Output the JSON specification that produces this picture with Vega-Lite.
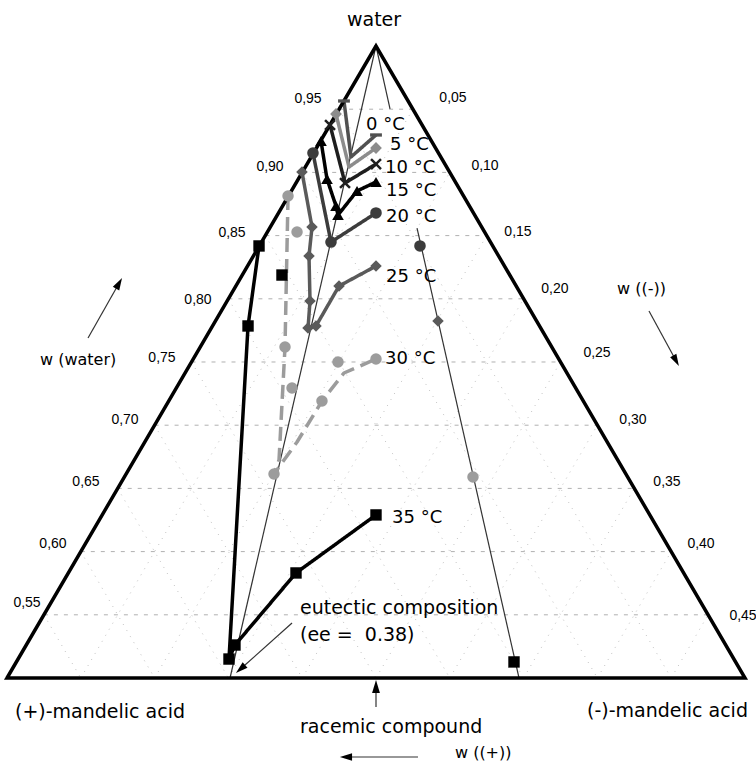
{
  "$schema": "https://vega.github.io/schema/vega-lite/v6.json",
  "width": 756,
  "height": 764,
  "autosize": {"type": "none"},
  "padding": 0,
  "background": "white",
  "config": {"view": {"stroke": null}},
  "datasets": {
    "frame": [
      {"ord": 1, "x": 0, "y": 1}, {"ord": 2, "x": -0.5, "y": 0.5}, {"ord": 3, "x": 0.5, "y": 0.5},
      {"ord": 4, "x": 0, "y": 1}, {"ord": 5, "x": -0.5, "y": 0.5}
    ],
    "hgrid": [
      {"g": "95", "x": -0.05, "y": 0.95}, {"g": "95", "x": 0.05, "y": 0.95},
      {"g": "90", "x": -0.1, "y": 0.9}, {"g": "90", "x": 0.1, "y": 0.9},
      {"g": "85", "x": -0.15, "y": 0.85}, {"g": "85", "x": 0.15, "y": 0.85},
      {"g": "80", "x": -0.2, "y": 0.8}, {"g": "80", "x": 0.2, "y": 0.8},
      {"g": "75", "x": -0.25, "y": 0.75}, {"g": "75", "x": 0.25, "y": 0.75},
      {"g": "70", "x": -0.3, "y": 0.7}, {"g": "70", "x": 0.3, "y": 0.7},
      {"g": "65", "x": -0.35, "y": 0.65}, {"g": "65", "x": 0.35, "y": 0.65},
      {"g": "60", "x": -0.4, "y": 0.6}, {"g": "60", "x": 0.4, "y": 0.6},
      {"g": "55", "x": -0.45, "y": 0.55}, {"g": "55", "x": 0.45, "y": 0.55}
    ],
    "dgrid": [
      {"g": "m05", "x": -0.4, "y": 0.5}, {"g": "m05", "x": 0.05, "y": 0.95},
      {"g": "m10", "x": -0.3, "y": 0.5}, {"g": "m10", "x": 0.1, "y": 0.9},
      {"g": "m15", "x": -0.2, "y": 0.5}, {"g": "m15", "x": 0.15, "y": 0.85},
      {"g": "m20", "x": -0.1, "y": 0.5}, {"g": "m20", "x": 0.2, "y": 0.8},
      {"g": "m25", "x": 0.0, "y": 0.5}, {"g": "m25", "x": 0.25, "y": 0.75},
      {"g": "m30", "x": 0.1, "y": 0.5}, {"g": "m30", "x": 0.3, "y": 0.7},
      {"g": "m35", "x": 0.2, "y": 0.5}, {"g": "m35", "x": 0.35, "y": 0.65},
      {"g": "m40", "x": 0.3, "y": 0.5}, {"g": "m40", "x": 0.4, "y": 0.6},
      {"g": "m45", "x": 0.4, "y": 0.5}, {"g": "m45", "x": 0.45, "y": 0.55},
      {"g": "p05", "x": 0.4, "y": 0.5}, {"g": "p05", "x": -0.05, "y": 0.95},
      {"g": "p10", "x": 0.3, "y": 0.5}, {"g": "p10", "x": -0.1, "y": 0.9},
      {"g": "p15", "x": 0.2, "y": 0.5}, {"g": "p15", "x": -0.15, "y": 0.85},
      {"g": "p20", "x": 0.1, "y": 0.5}, {"g": "p20", "x": -0.2, "y": 0.8},
      {"g": "p25", "x": 0.0, "y": 0.5}, {"g": "p25", "x": -0.25, "y": 0.75},
      {"g": "p30", "x": -0.1, "y": 0.5}, {"g": "p30", "x": -0.3, "y": 0.7},
      {"g": "p35", "x": -0.2, "y": 0.5}, {"g": "p35", "x": -0.35, "y": 0.65},
      {"g": "p40", "x": -0.3, "y": 0.5}, {"g": "p40", "x": -0.4, "y": 0.6},
      {"g": "p45", "x": -0.4, "y": 0.5}, {"g": "p45", "x": -0.45, "y": 0.55}
    ],
    "guides": [
      {"g": "eut", "ord": 1, "x": 0, "y": 1}, {"g": "eut", "ord": 2, "x": -0.1978, "y": 0.5},
      {"g": "tieA", "ord": 1, "x": 0, "y": 1}, {"g": "tieA", "ord": 2, "x": 0.019, "y": 0.9502},
      {"g": "tieB", "ord": 1, "x": 0.0556, "y": 0.856}, {"g": "tieB", "ord": 2, "x": 0.1938, "y": 0.5}
    ],
    "curves": [
      {"T": "0", "ord": 1, "x": -0.0434, "y": 0.9565}, {"T": "0", "ord": 2, "x": -0.0339, "y": 0.9122}, {"T": "0", "ord": 3, "x": 0, "y": 0.9296},
      {"T": "5", "ord": 1, "x": -0.0542, "y": 0.9462}, {"T": "5", "ord": 2, "x": -0.0366, "y": 0.9043}, {"T": "5", "ord": 3, "x": 0, "y": 0.9193},
      {"T": "10", "ord": 1, "x": -0.0623, "y": 0.9375}, {"T": "10", "ord": 2, "x": -0.042, "y": 0.8916}, {"T": "10", "ord": 3, "x": 0, "y": 0.9066},
      {"T": "15", "ord": 1, "x": -0.0745, "y": 0.9248}, {"T": "15", "ord": 2, "x": -0.0664, "y": 0.8948}, {"T": "15", "ord": 3, "x": -0.0542, "y": 0.8734},
      {"T": "15", "ord": 4, "x": -0.0515, "y": 0.8663}, {"T": "15", "ord": 5, "x": -0.0257, "y": 0.8853}, {"T": "15", "ord": 6, "x": 0, "y": 0.8924},
      {"T": "20", "ord": 1, "x": -0.0854, "y": 0.9153}, {"T": "20", "ord": 2, "x": -0.061, "y": 0.8449}, {"T": "20", "ord": 3, "x": 0, "y": 0.8679},
      {"T": "25", "ord": 1, "x": -0.1003, "y": 0.9003}, {"T": "25", "ord": 2, "x": -0.0867, "y": 0.8568}, {"T": "25", "ord": 3, "x": -0.0908, "y": 0.8339},
      {"T": "25", "ord": 4, "x": -0.0894, "y": 0.7983}, {"T": "25", "ord": 5, "x": -0.0921, "y": 0.7769}, {"T": "25", "ord": 6, "x": -0.0813, "y": 0.7785},
      {"T": "25", "ord": 7, "x": -0.0501, "y": 0.8101}, {"T": "25", "ord": 8, "x": 0, "y": 0.8259},
      {"T": "30", "ord": 1, "x": -0.1192, "y": 0.8813}, {"T": "30", "ord": 2, "x": -0.1233, "y": 0.7619}, {"T": "30", "ord": 3, "x": -0.1314, "y": 0.6725},
      {"T": "30", "ord": 4, "x": -0.1382, "y": 0.6614}, {"T": "30", "ord": 5, "x": -0.107, "y": 0.6867}, {"T": "30", "ord": 6, "x": -0.0732, "y": 0.7191},
      {"T": "30", "ord": 7, "x": -0.0434, "y": 0.7413}, {"T": "30", "ord": 8, "x": 0, "y": 0.7524},
      {"T": "35", "ord": 1, "x": -0.1585, "y": 0.8418}, {"T": "35", "ord": 2, "x": -0.1734, "y": 0.7785}, {"T": "35", "ord": 3, "x": -0.1992, "y": 0.515},
      {"T": "35", "ord": 4, "x": -0.1911, "y": 0.5261}, {"T": "35", "ord": 5, "x": -0.1084, "y": 0.5831}, {"T": "35", "ord": 6, "x": 0, "y": 0.629}
    ],
    "points": [
      {"T": "0", "x": -0.0434, "y": 0.9565}, {"T": "0", "x": 0, "y": 0.9296},
      {"T": "5", "x": -0.0542, "y": 0.9462}, {"T": "5", "x": 0, "y": 0.9193},
      {"T": "10", "x": -0.0623, "y": 0.9375}, {"T": "10", "x": -0.042, "y": 0.8916}, {"T": "10", "x": 0, "y": 0.9066},
      {"T": "15", "x": -0.0745, "y": 0.9248}, {"T": "15", "x": -0.0664, "y": 0.8948}, {"T": "15", "x": -0.0542, "y": 0.8734},
      {"T": "15", "x": -0.0515, "y": 0.8663}, {"T": "15", "x": -0.0257, "y": 0.8853}, {"T": "15", "x": 0, "y": 0.8924},
      {"T": "20", "x": -0.0854, "y": 0.9153}, {"T": "20", "x": -0.061, "y": 0.8449}, {"T": "20", "x": 0, "y": 0.8679}, {"T": "20", "x": 0.0596, "y": 0.8418},
      {"T": "25", "x": -0.1003, "y": 0.9003}, {"T": "25", "x": -0.0867, "y": 0.8568}, {"T": "25", "x": -0.0908, "y": 0.8339},
      {"T": "25", "x": -0.0894, "y": 0.7983}, {"T": "25", "x": -0.0921, "y": 0.7769}, {"T": "25", "x": -0.0813, "y": 0.7785},
      {"T": "25", "x": -0.0501, "y": 0.8101}, {"T": "25", "x": 0, "y": 0.8259}, {"T": "25", "x": 0.084, "y": 0.7824},
      {"T": "30", "x": -0.1192, "y": 0.8813}, {"T": "30", "x": -0.107, "y": 0.8528}, {"T": "30", "x": -0.1233, "y": 0.7619},
      {"T": "30", "x": -0.1138, "y": 0.7294}, {"T": "30", "x": -0.1382, "y": 0.6614}, {"T": "30", "x": -0.0732, "y": 0.7191},
      {"T": "30", "x": -0.0515, "y": 0.75}, {"T": "30", "x": 0, "y": 0.7524}, {"T": "30", "x": 0.1314, "y": 0.659},
      {"T": "35", "x": -0.1585, "y": 0.8418}, {"T": "35", "x": -0.1734, "y": 0.7785}, {"T": "35", "x": -0.1274, "y": 0.8188},
      {"T": "35", "x": -0.1911, "y": 0.5261}, {"T": "35", "x": -0.1992, "y": 0.515}, {"T": "35", "x": -0.1084, "y": 0.5831},
      {"T": "35", "x": 0, "y": 0.629}, {"T": "35", "x": 0.187, "y": 0.5127}
    ],
    "arrows": [
      {"a": "wat", "ord": 1, "x": -0.3902, "y": 0.769}, {"a": "wat", "ord": 2, "x": -0.3482, "y": 0.8123},
      {"a": "neg", "ord": 1, "x": 0.3699, "y": 0.7903}, {"a": "neg", "ord": 2, "x": 0.4066, "y": 0.751},
      {"a": "pos", "ord": 1, "x": 0.0569, "y": 0.4375}, {"a": "pos", "ord": 2, "x": -0.0407, "y": 0.4375},
      {"a": "rac", "ord": 1, "x": 0, "y": 0.4771}, {"a": "rac", "ord": 2, "x": 0, "y": 0.4933},
      {"a": "eut", "ord": 1, "x": -0.1138, "y": 0.5435}, {"a": "eut", "ord": 2, "x": -0.1836, "y": 0.5071}
    ],
    "heads": [
      {"a": "wat", "x": -0.3482, "y": 0.8123},
      {"a": "neg", "x": 0.4066, "y": 0.751},
      {"a": "pos", "x": -0.0407, "y": 0.4375},
      {"a": "rac", "x": 0, "y": 0.4933},
      {"a": "eut", "x": -0.1836, "y": 0.5071}
    ],
    "ticks": [
      {"t": "0,95", "x": -0.0921, "y": 0.9581}, {"t": "0,90", "x": -0.1436, "y": 0.9043},
      {"t": "0,85", "x": -0.1951, "y": 0.8521}, {"t": "0,80", "x": -0.2412, "y": 0.7991},
      {"t": "0,75", "x": -0.29, "y": 0.7532}, {"t": "0,70", "x": -0.3401, "y": 0.7041},
      {"t": "0,65", "x": -0.393, "y": 0.6551}, {"t": "0,60", "x": -0.4377, "y": 0.606},
      {"t": "0,55", "x": -0.4729, "y": 0.5593},
      {"t": "0,05", "x": 0.1043, "y": 0.9589}, {"t": "0,10", "x": 0.1477, "y": 0.9051},
      {"t": "0,15", "x": 0.1924, "y": 0.8528}, {"t": "0,20", "x": 0.2425, "y": 0.8078},
      {"t": "0,25", "x": 0.2995, "y": 0.7571}, {"t": "0,30", "x": 0.3482, "y": 0.7041},
      {"t": "0,35", "x": 0.3943, "y": 0.6551}, {"t": "0,40", "x": 0.4404, "y": 0.606},
      {"t": "0,45", "x": 0.4973, "y": 0.5491}
    ],
    "temps": [
      {"t": "0 °C", "x": -0.0136, "y": 0.9375}, {"t": "5 °C", "x": 0.019, "y": 0.9213},
      {"t": "10 °C", "x": 0.0122, "y": 0.9035}, {"t": "15 °C", "x": 0.0136, "y": 0.8855},
      {"t": "20 °C", "x": 0.0136, "y": 0.8647}, {"t": "25 °C", "x": 0.0136, "y": 0.8172},
      {"t": "30 °C", "x": 0.0122, "y": 0.7524}, {"t": "35 °C", "x": 0.0217, "y": 0.6266}
    ],
    "bigLabels": [
      {"t": "(+)-mandelic acid", "x": -0.4892, "y": 0.4731},
      {"t": "(-)-mandelic acid", "x": 0.2859, "y": 0.4739},
      {"t": "racemic compound", "x": -0.103, "y": 0.4612},
      {"t": "eutectic composition", "x": -0.103, "y": 0.5554},
      {"t": "(ee = \u00a00.38)", "x": -0.103, "y": 0.534}
    ],
    "smallLabels": [
      {"t": "w (water)", "x": -0.4553, "y": 0.7516},
      {"t": "w ((-))", "x": 0.3266, "y": 0.8078},
      {"t": "w ((+))", "x": 0.107, "y": 0.4407}
    ],
    "title": [{"t": "water", "x": -0.0027, "y": 1.0206}]
  },
  "encoding": {
    "x": {"field": "x", "type": "quantitative", "scale": {"domain": [-0.50949, 0.51491], "nice": false, "zero": false}, "axis": null},
    "y": {"field": "y", "type": "quantitative", "scale": {"domain": [0.43196, 1.03639], "nice": false, "zero": false}, "axis": null}
  },
  "layer": [
    {
      "data": {"name": "dgrid"},
      "mark": {"type": "line", "stroke": "#c2c2c2", "strokeWidth": 1, "strokeDash": [1, 6]},
      "encoding": {"detail": {"field": "g", "type": "nominal"}}
    },
    {
      "data": {"name": "hgrid"},
      "mark": {"type": "line", "stroke": "#b0b0b0", "strokeWidth": 1, "strokeDash": [4, 6]},
      "encoding": {"detail": {"field": "g", "type": "nominal"}}
    },
    {
      "data": {"name": "guides"},
      "mark": {"type": "line", "stroke": "#333333", "strokeWidth": 1.2},
      "encoding": {"detail": {"field": "g", "type": "nominal"}, "order": {"field": "ord", "type": "quantitative"}}
    },
    {
      "data": {"name": "curves"},
      "mark": {"type": "line", "strokeJoin": "round", "strokeCap": "butt"},
      "encoding": {
        "detail": {"field": "T", "type": "nominal"},
        "order": {"field": "ord", "type": "quantitative"},
        "color": {"field": "T", "type": "nominal", "legend": null,
          "scale": {"domain": ["0", "5", "10", "15", "20", "25", "30", "35"],
                    "range": ["#505050", "#8c8c8c", "#1e1e1e", "#000000", "#3c3c3c", "#5a5a5a", "#9c9c9c", "#000000"]}},
        "strokeDash": {"field": "T", "type": "nominal", "legend": null,
          "scale": {"domain": ["0", "5", "10", "15", "20", "25", "30", "35"],
                    "range": [[1, 0], [1, 0], [1, 0], [1, 0], [1, 0], [1, 0], [14, 7], [1, 0]]}},
        "strokeWidth": {"field": "T", "type": "ordinal", "legend": null,
          "scale": {"domain": ["0", "5", "10", "15", "20", "25", "30", "35"],
                    "range": [3.5, 3.5, 3, 3.5, 3.5, 4, 4, 4.5]}}
      }
    },
    {
      "data": {"name": "frame"},
      "mark": {"type": "line", "stroke": "#000000", "strokeWidth": 3.5, "strokeJoin": "miter"},
      "encoding": {"order": {"field": "ord", "type": "quantitative"}}
    },
    {
      "data": {"name": "points"},
      "mark": {"type": "point", "filled": true, "opacity": 1},
      "encoding": {
        "color": {"field": "T", "type": "nominal", "legend": null,
          "scale": {"domain": ["0", "5", "10", "15", "20", "25", "30", "35"],
                    "range": ["#505050", "#8c8c8c", "#1e1e1e", "#000000", "#3c3c3c", "#5a5a5a", "#9c9c9c", "#000000"]}},
        "shape": {"field": "T", "type": "nominal", "legend": null,
          "scale": {"domain": ["0", "5", "10", "15", "20", "25", "30", "35"],
                    "range": ["M-1,-0.28L1,-0.28L1,0.28L-1,0.28Z", "diamond",
                              "M-1,-0.7L-0.7,-1L0,-0.3L0.7,-1L1,-0.7L0.3,0L1,0.7L0.7,1L0,0.3L-0.7,1L-1,0.7L-0.3,0Z",
                              "triangle-up", "circle", "diamond", "circle", "square"]}},
        "size": {"field": "T", "type": "ordinal", "legend": null,
          "scale": {"domain": ["0", "5", "10", "15", "20", "25", "30", "35"],
                    "range": [140, 130, 140, 125, 135, 130, 135, 145]}}
      }
    },
    {
      "data": {"name": "arrows"},
      "mark": {"type": "line", "stroke": "#333333", "strokeWidth": 1.2},
      "encoding": {"detail": {"field": "a", "type": "nominal"}, "order": {"field": "ord", "type": "quantitative"}}
    },
    {
      "data": {"name": "heads"},
      "transform": [{"filter": "datum.a == 'wat'"}],
      "mark": {"type": "point", "shape": "M0,-1L0.6,1L-0.6,1Z", "filled": true, "color": "#000000", "opacity": 1, "size": 150, "angle": 29.5}
    },
    {
      "data": {"name": "heads"},
      "transform": [{"filter": "datum.a == 'neg'"}],
      "mark": {"type": "point", "shape": "M0,-1L0.6,1L-0.6,1Z", "filled": true, "color": "#000000", "opacity": 1, "size": 140, "angle": 151.4}
    },
    {
      "data": {"name": "heads"},
      "transform": [{"filter": "datum.a == 'pos'"}],
      "mark": {"type": "point", "shape": "M0,-1L0.6,1L-0.6,1Z", "filled": true, "color": "#000000", "opacity": 1, "size": 150, "angle": 270}
    },
    {
      "data": {"name": "heads"},
      "transform": [{"filter": "datum.a == 'rac'"}],
      "mark": {"type": "point", "shape": "M0,-1L0.6,1L-0.6,1Z", "filled": true, "color": "#000000", "opacity": 1, "size": 170, "angle": 0}
    },
    {
      "data": {"name": "heads"},
      "transform": [{"filter": "datum.a == 'eut'"}],
      "mark": {"type": "point", "shape": "M0,-1L0.6,1L-0.6,1Z", "filled": true, "color": "#000000", "opacity": 1, "size": 150, "angle": 228.3}
    },
    {
      "data": {"name": "ticks"},
      "mark": {"type": "text", "font": "Liberation Sans", "fontSize": 14, "align": "center", "baseline": "middle", "color": "#000000"},
      "encoding": {"text": {"field": "t", "type": "nominal"}}
    },
    {
      "data": {"name": "temps"},
      "mark": {"type": "text", "font": "DejaVu Sans", "fontSize": 18, "align": "left", "baseline": "middle", "color": "#000000"},
      "encoding": {"text": {"field": "t", "type": "nominal"}}
    },
    {
      "data": {"name": "bigLabels"},
      "mark": {"type": "text", "font": "DejaVu Sans", "fontSize": 19, "align": "left", "baseline": "middle", "color": "#000000"},
      "encoding": {"text": {"field": "t", "type": "nominal"}}
    },
    {
      "data": {"name": "smallLabels"},
      "mark": {"type": "text", "font": "DejaVu Sans", "fontSize": 16, "align": "left", "baseline": "middle", "color": "#000000"},
      "encoding": {"text": {"field": "t", "type": "nominal"}}
    },
    {
      "data": {"name": "title"},
      "mark": {"type": "text", "font": "DejaVu Sans", "fontSize": 19, "align": "center", "baseline": "middle", "color": "#000000"},
      "encoding": {"text": {"field": "t", "type": "nominal"}}
    }
  ]
}
